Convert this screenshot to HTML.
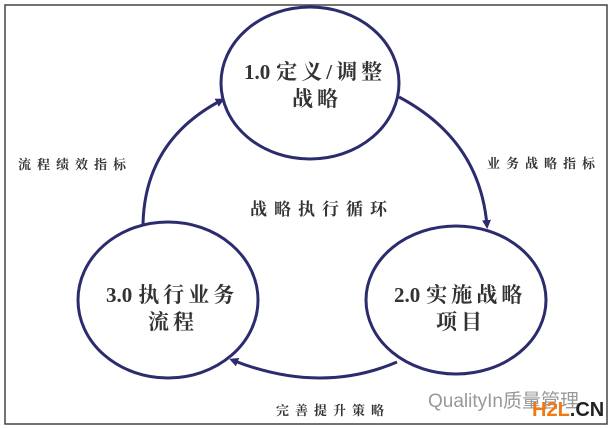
<!DOCTYPE html>
<html><head><meta charset="utf-8"><style>
html,body{margin:0;padding:0;background:#fff;}
svg{display:block;}
text{font-family:"Liberation Serif","Noto Serif CJK SC",serif;fill:#333;}
</style></head><body>
<svg width="612" height="428" viewBox="0 0 612 428">
<rect x="0" y="0" width="612" height="428" fill="#fff"/>
<rect x="5" y="5" width="602" height="419" fill="none" stroke="#444" stroke-width="1.5"/>
<defs><marker id="a" markerWidth="9" markerHeight="9" refX="6" refY="4.5" orient="auto" markerUnits="userSpaceOnUse"><path d="M0,0 L9,4.5 L0,9 Z" fill="#2b2b6e"/></marker></defs>
<g fill="none" stroke="#2b2b6e" stroke-width="3">
<ellipse cx="310" cy="83" rx="89" ry="76"/>
<ellipse cx="168" cy="300" rx="90" ry="78"/>
<ellipse cx="456" cy="300" rx="90" ry="74"/>
<path d="M143,224 Q145,140 222,100" marker-end="url(#a)"/>
<path d="M399,97 Q480,140 487,226" marker-end="url(#a)"/>
<path d="M397,362 Q320,395 232,360" marker-end="url(#a)"/>
</g>
<g font-size="21" font-weight="bold">
<text x="244" y="79">1.0<tspan dx="6" letter-spacing="4">定义/调整</tspan></text>
<text x="292" y="106" letter-spacing="4">战略</text>
<text x="106" y="302">3.0<tspan dx="6" letter-spacing="4">执行业务</tspan></text>
<text x="148" y="329" letter-spacing="4">流程</text>
<text x="394" y="302">2.0<tspan dx="6" letter-spacing="4">实施战略</tspan></text>
<text x="436" y="329" letter-spacing="4">项目</text>
</g>
<g font-size="13" font-weight="bold" letter-spacing="6">
<text x="18" y="169">流程绩效指标</text>
<text x="487" y="168">业务战略指标</text>
<text x="276" y="415">完善提升策略</text>
</g>
<text x="322" y="215" font-size="17" font-weight="bold" text-anchor="middle" letter-spacing="7">战略执行循环</text>
<text x="428" y="407" font-size="19" style="font-family:'Liberation Sans','Noto Sans CJK SC',sans-serif;fill:#999">QualityIn质量管理</text>
<text x="532" y="416" font-size="20" font-weight="bold" style="font-family:'Liberation Sans',sans-serif;fill:#f07a10">H2L<tspan style="fill:#222">.CN</tspan></text>
</svg>
</body></html>
